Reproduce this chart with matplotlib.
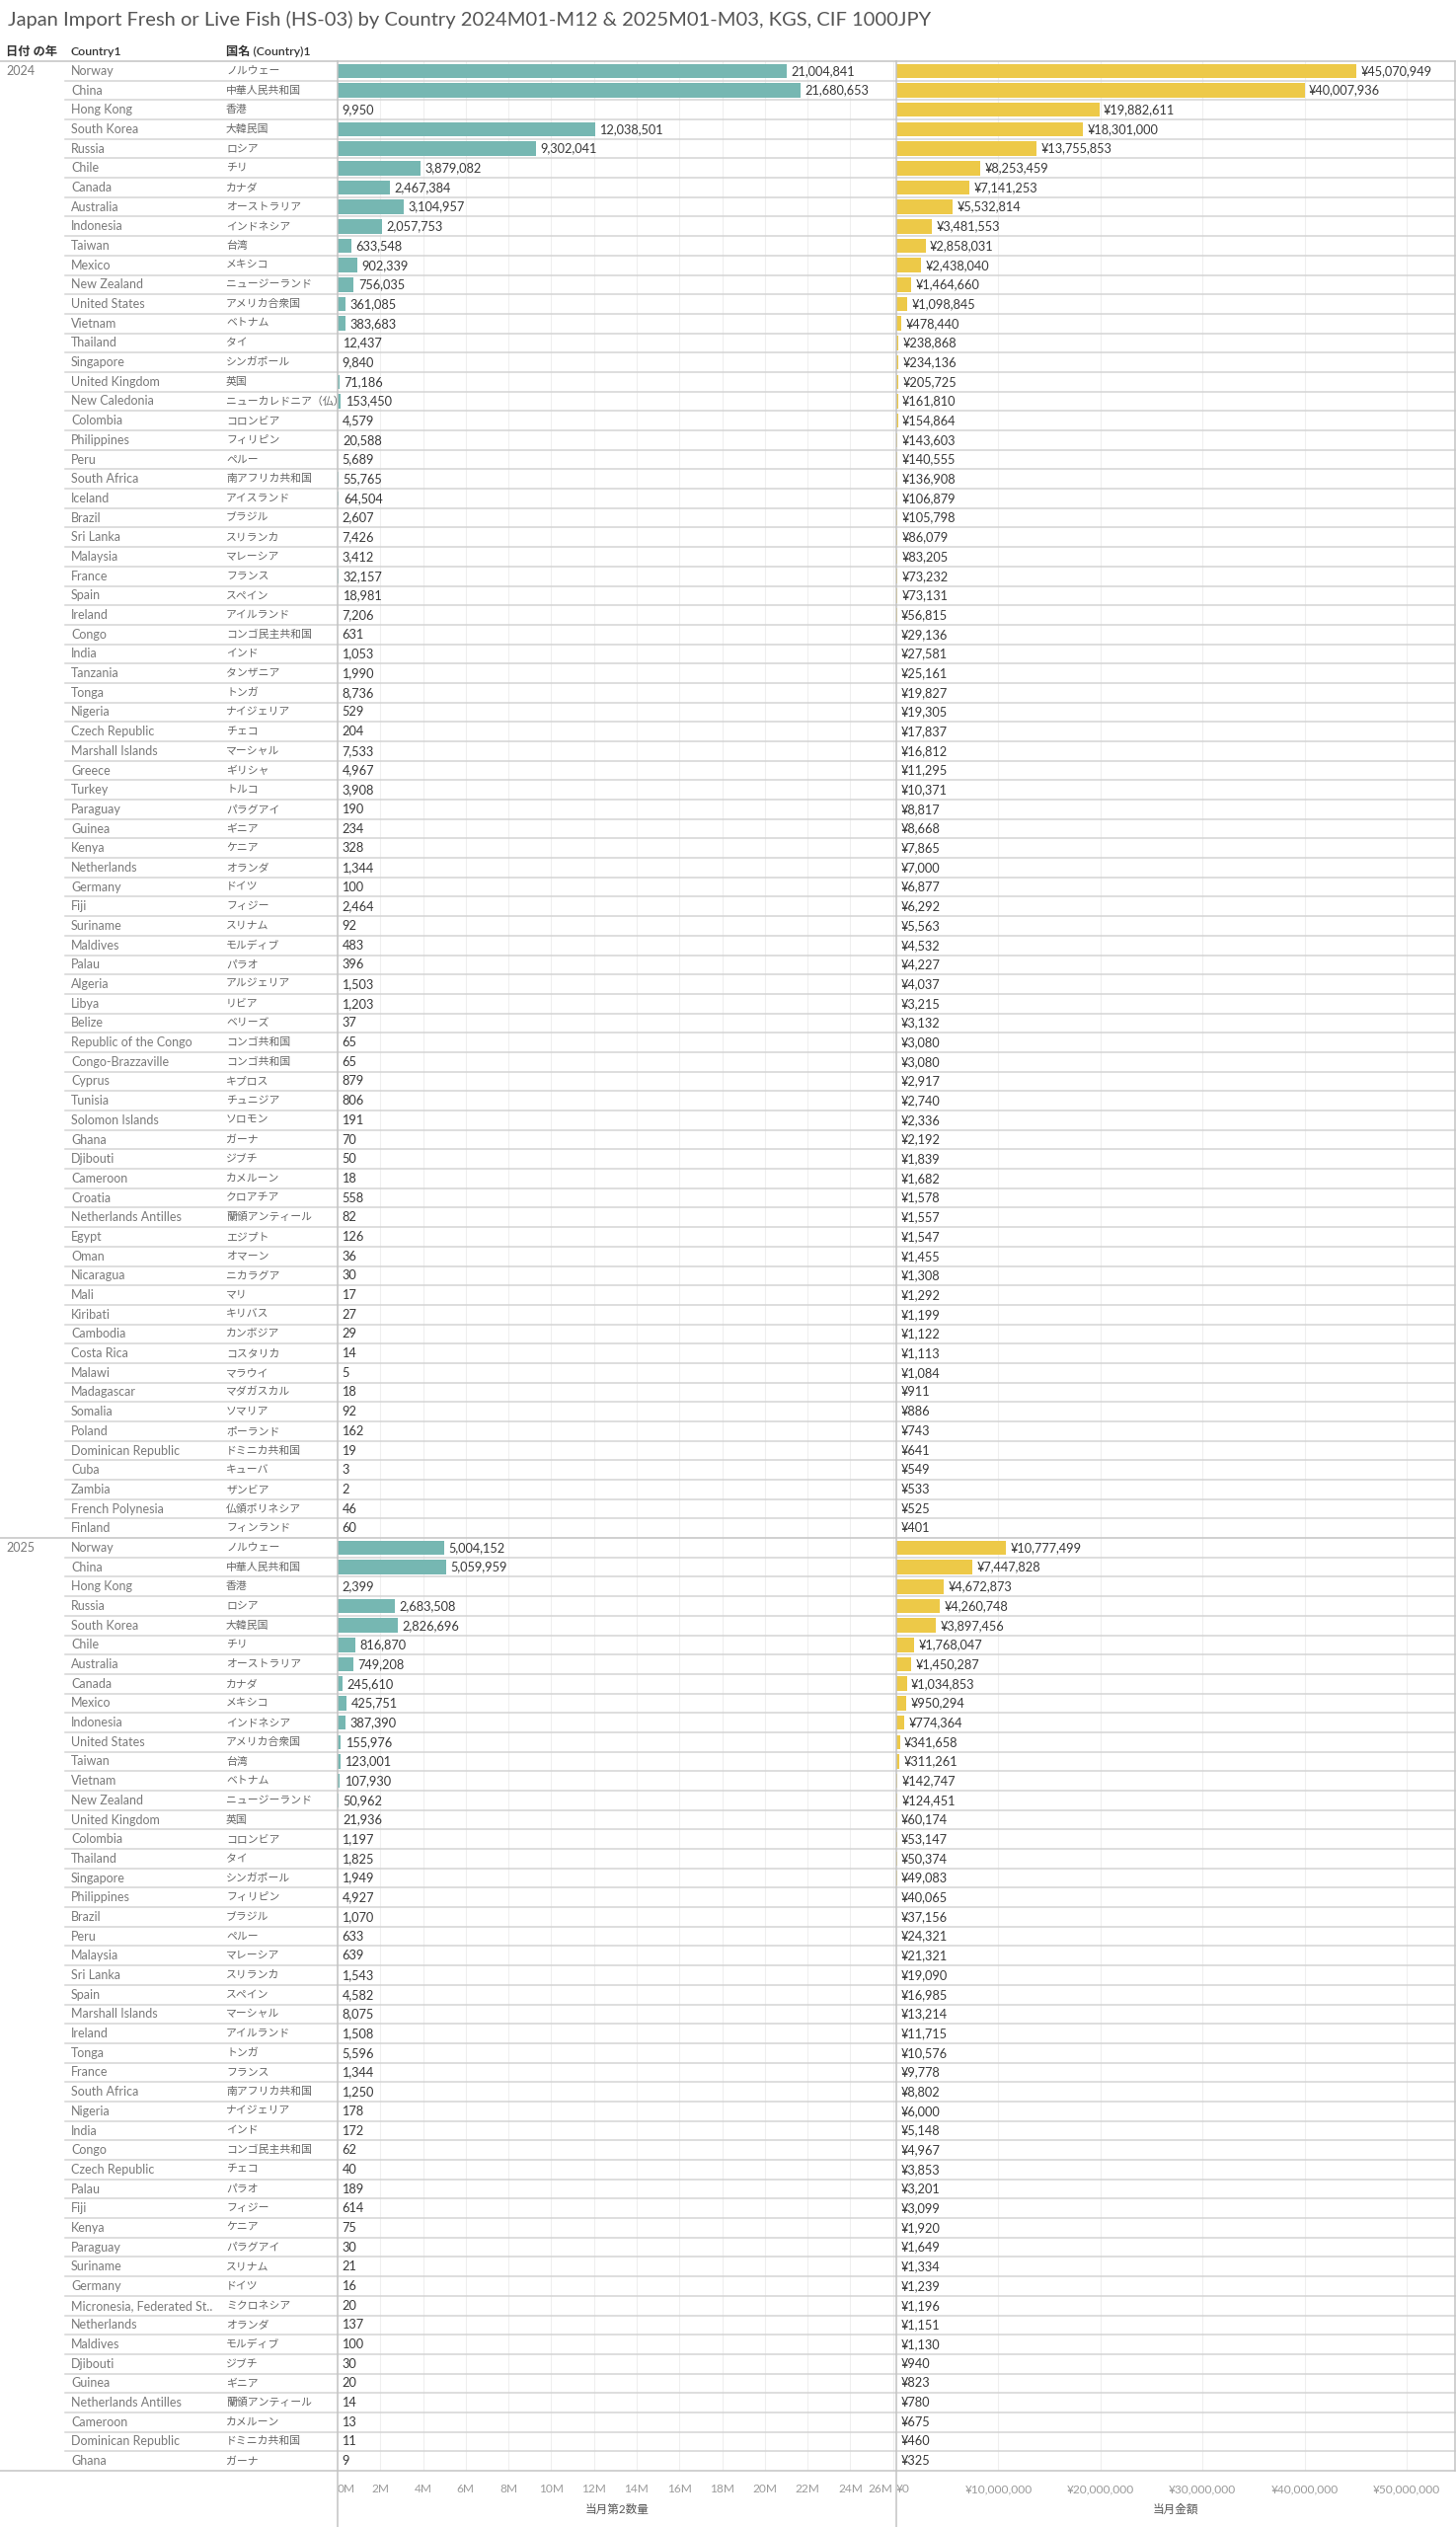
import matplotlib
matplotlib.use('Agg')
import matplotlib.pyplot as plt
from matplotlib.lines import Line2D
import numpy as np

W, H = 1475, 2560
plt.rcParams['font.family'] = ['Lato', 'Noto Sans CJK JP', 'DejaVu Sans']

TITLE = "Japan Import Fresh or Live Fish (HS-03) by Country 2024M01-M12 & 2025M01-M03, KGS, CIF 1000JPY"

countries_2024 = [
    "Norway", "China", "Hong Kong", "South Korea", "Russia", "Chile", "Canada", "Australia",
    "Indonesia", "Taiwan", "Mexico", "New Zealand", "United States", "Vietnam", "Thailand",
    "Singapore", "United Kingdom", "New Caledonia", "Colombia", "Philippines", "Peru",
    "South Africa", "Iceland", "Brazil", "Sri Lanka", "Malaysia", "France", "Spain", "Ireland",
    "Congo", "India", "Tanzania", "Tonga", "Nigeria", "Czech Republic", "Marshall Islands",
    "Greece", "Turkey", "Paraguay", "Guinea", "Kenya", "Netherlands", "Germany", "Fiji",
    "Suriname", "Maldives", "Palau", "Algeria", "Libya", "Belize", "Republic of the Congo",
    "Congo-Brazzaville", "Cyprus", "Tunisia", "Solomon Islands", "Ghana", "Djibouti",
    "Cameroon", "Croatia", "Netherlands Antilles", "Egypt", "Oman", "Nicaragua", "Mali",
    "Kiribati", "Cambodia", "Costa Rica", "Malawi", "Madagascar", "Somalia", "Poland",
    "Dominican Republic", "Cuba", "Zambia", "French Polynesia", "Finland",
]
names_jp_2024 = [
    "ノルウェー", "中華人民共和国", "香港", "大韓民国", "ロシア", "チリ", "カナダ", "オーストラリア",
    "インドネシア", "台湾", "メキシコ", "ニュージーランド", "アメリカ合衆国", "ベトナム", "タイ",
    "シンガポール", "英国", "ニューカレドニア（仏）", "コロンビア", "フィリピン", "ペルー",
    "南アフリカ共和国", "アイスランド", "ブラジル", "スリランカ", "マレーシア", "フランス", "スペイン", "アイルランド",
    "コンゴ民主共和国", "インド", "タンザニア", "トンガ", "ナイジェリア", "チェコ", "マーシャル",
    "ギリシャ", "トルコ", "パラグアイ", "ギニア", "ケニア", "オランダ", "ドイツ", "フィジー",
    "スリナム", "モルディブ", "パラオ", "アルジェリア", "リビア", "ベリーズ", "コンゴ共和国",
    "コンゴ共和国", "キプロス", "チュニジア", "ソロモン", "ガーナ", "ジブチ",
    "カメルーン", "クロアチア", "蘭領アンティール", "エジプト", "オマーン", "ニカラグア", "マリ",
    "キリバス", "カンボジア", "コスタリカ", "マラウイ", "マダガスカル", "ソマリア", "ポーランド",
    "ドミニカ共和国", "キューバ", "ザンビア", "仏領ポリネシア", "フィンランド",
]
qty_2024 = [
    21004841, 21680653, 9950, 12038501, 9302041, 3879082, 2467384, 3104957,
    2057753, 633548, 902339, 756035, 361085, 383683, 12437,
    9840, 71186, 153450, 4579, 20588, 5689,
    55765, 64504, 2607, 7426, 3412, 32157, 18981, 7206,
    631, 1053, 1990, 8736, 529, 204, 7533,
    4967, 3908, 190, 234, 328, 1344, 100, 2464,
    92, 483, 396, 1503, 1203, 37, 65,
    65, 879, 806, 191, 70, 50,
    18, 558, 82, 126, 36, 30, 17,
    27, 29, 14, 5, 18, 92, 162,
    19, 3, 2, 46, 60,
]
val_2024 = [
    45070949, 40007936, 19882611, 18301000, 13755853, 8253459, 7141253, 5532814,
    3481553, 2858031, 2438040, 1464660, 1098845, 478440, 238868,
    234136, 205725, 161810, 154864, 143603, 140555,
    136908, 106879, 105798, 86079, 83205, 73232, 73131, 56815,
    29136, 27581, 25161, 19827, 19305, 17837, 16812,
    11295, 10371, 8817, 8668, 7865, 7000, 6877, 6292,
    5563, 4532, 4227, 4037, 3215, 3132, 3080,
    3080, 2917, 2740, 2336, 2192, 1839,
    1682, 1578, 1557, 1547, 1455, 1308, 1292,
    1199, 1122, 1113, 1084, 911, 886, 743,
    641, 549, 533, 525, 401,
]

countries_2025 = [
    "Norway", "China", "Hong Kong", "Russia", "South Korea", "Chile", "Australia", "Canada",
    "Mexico", "Indonesia", "United States", "Taiwan", "Vietnam", "New Zealand", "United Kingdom",
    "Colombia", "Thailand", "Singapore", "Philippines", "Brazil", "Peru", "Malaysia", "Sri Lanka",
    "Spain", "Marshall Islands", "Ireland", "Tonga", "France", "South Africa", "Nigeria", "India",
    "Congo", "Czech Republic", "Palau", "Fiji", "Kenya", "Paraguay", "Suriname", "Germany",
    "Micronesia, Federated St..", "Netherlands", "Maldives", "Djibouti", "Guinea",
    "Netherlands Antilles", "Cameroon", "Dominican Republic", "Ghana",
]
names_jp_2025 = [
    "ノルウェー", "中華人民共和国", "香港", "ロシア", "大韓民国", "チリ", "オーストラリア", "カナダ",
    "メキシコ", "インドネシア", "アメリカ合衆国", "台湾", "ベトナム", "ニュージーランド", "英国",
    "コロンビア", "タイ", "シンガポール", "フィリピン", "ブラジル", "ペルー", "マレーシア", "スリランカ",
    "スペイン", "マーシャル", "アイルランド", "トンガ", "フランス", "南アフリカ共和国", "ナイジェリア", "インド",
    "コンゴ民主共和国", "チェコ", "パラオ", "フィジー", "ケニア", "パラグアイ", "スリナム", "ドイツ",
    "ミクロネシア", "オランダ", "モルディブ", "ジブチ", "ギニア",
    "蘭領アンティール", "カメルーン", "ドミニカ共和国", "ガーナ",
]
qty_2025 = [
    5004152, 5059959, 2399, 2683508, 2826696, 816870, 749208, 245610,
    425751, 387390, 155976, 123001, 107930, 50962, 21936,
    1197, 1825, 1949, 4927, 1070, 633, 639, 1543,
    4582, 8075, 1508, 5596, 1344, 1250, 178, 172,
    62, 40, 189, 614, 75, 30, 21, 16,
    20, 137, 100, 30, 20,
    14, 13, 11, 9,
]
val_2025 = [
    10777499, 7447828, 4672873, 4260748, 3897456, 1768047, 1450287, 1034853,
    950294, 774364, 341658, 311261, 142747, 124451, 60174,
    53147, 50374, 49083, 40065, 37156, 24321, 21321, 19090,
    16985, 13214, 11715, 10576, 9778, 8802, 6000, 5148,
    4967, 3853, 3201, 3099, 1920, 1649, 1334, 1239,
    1196, 1151, 1130, 940, 823,
    780, 675, 460, 325,
]

year_labels = ["2024", "2025"]
qty_ticks = list(range(0, 27, 2))            # in millions
val_ticks = [0, 10, 20, 30, 40, 50]           # in millions of yen

countries = countries_2024 + countries_2025
names_jp = names_jp_2024 + names_jp_2025
qty = qty_2024 + qty_2025
val = val_2024 + val_2025
n24 = len(countries_2024)
N = len(countries)

TEAL = '#76b7b2'
YELLOW = '#edc948'
LINE = '#d4d4d4'
LINE_DARK = '#c4c4c4'
GRID = '#efefef'

FS_NAME = 9.0
FS_JP = 7.8
FS_VAL = 9.2

fig = plt.figure(figsize=(W / 100, H / 100), dpi=100)
fig.patch.set_facecolor('white')


def add_ax(x0, y0, x1, y1):
    return fig.add_axes([x0 / W, 1 - y1 / H, (x1 - x0) / W, (y1 - y0) / H])


TOP, BOT = 62, 2503
XL, XM, XR = 342, 908, 1474
axL = add_ax(0, TOP, XL, BOT)
ax1 = add_ax(XL, TOP, XM, BOT)
ax2 = add_ax(XM, TOP, XR, BOT)

y = np.arange(N)
for ax in (axL, ax1, ax2):
    ax.set_ylim(N - 0.5, -0.5)
    for s in ax.spines.values():
        s.set_visible(False)
    ax.set_yticks([])
    ax.set_facecolor('none')

axL.set_xlim(0, XL)
axL.set_xticks([])

# row separators
for b in range(0, N + 1):
    yy = b - 0.5
    if b in (0, n24, N):
        axL.plot([0, XL], [yy, yy], color=LINE_DARK, lw=1.1, zorder=3, clip_on=False)
        c = LINE_DARK
    else:
        axL.plot([66, XL], [yy, yy], color=LINE, lw=1.1, zorder=3, clip_on=False)
        c = LINE
    ax1.axhline(yy, color=c, lw=1.1, zorder=3, clip_on=False)
    ax2.axhline(yy, color=c, lw=1.1, zorder=3, clip_on=False)

# label columns
for i in range(N):
    axL.text(72, i, countries[i], va='center', ha='left', fontsize=FS_NAME, color='#7a7a7a')
    axL.text(229, i, names_jp[i], va='center', ha='left', fontsize=FS_JP, color='#666666',
             family=['Noto Sans CJK JP', 'DejaVu Sans'])
axL.text(6, 0, year_labels[0], va='center', ha='left', fontsize=FS_NAME, color='#7a7a7a')
axL.text(6, n24, year_labels[1], va='center', ha='left', fontsize=FS_NAME, color='#7a7a7a')

# headers and title
fig.text(8 / W, 1 - 20 / H, TITLE, fontsize=14.5, color='#555555', va='center', ha='left')
for hx, ht in ((6, '日付 の年'), (72, 'Country1'), (229, '国名 (Country)1')):
    fig.text(hx / W, 1 - 52 / H, ht, fontsize=8.8, color='#333333', va='center', ha='left',
             fontweight='semibold')

# bars: quantity
ax1.set_xlim(0, 26.15e6)
ax1.barh(y, qty, height=0.74, color=TEAL, zorder=2)
for i, v in enumerate(qty):
    ax1.annotate(f"{v:,}", (v, i), xytext=(3.2, 0), textcoords='offset points',
                 va='center', ha='left', fontsize=FS_VAL, color='#3a3a3a', zorder=4)
ax1.set_xticks([t * 1e6 for t in qty_ticks])
ax1.set_xticklabels([f"{t}M" for t in qty_ticks])

# bars: value
ax2.set_xlim(0, 54.75e6)
ax2.barh(y, val, height=0.74, color=YELLOW, zorder=2)
for i, v in enumerate(val):
    ax2.annotate(f"¥{v:,}", (v, i), xytext=(3.2, 0), textcoords='offset points',
                 va='center', ha='left', fontsize=FS_VAL, color='#3a3a3a', zorder=4)
ax2.set_xticks([t * 1e6 for t in val_ticks])
ax2.set_xticklabels([f"¥{t * 1000000:,}" for t in val_ticks])

for ax in (ax1, ax2):
    ax.grid(axis='x', color=GRID, lw=0.8, zorder=0)
    ax.set_axisbelow(True)
    ax.tick_params(axis='x', length=0, pad=9.5, labelsize=8.6, labelcolor='#9a9a9a')

tl = ax1.get_xticklabels()
tl[0].set_ha('left')
tl[-1].set_ha('right')
tl2 = ax2.get_xticklabels()
tl2[0].set_ha('left')

ax1.set_xlabel('当月第2数量', fontsize=8.4, color='#555555', labelpad=7)
ax2.set_xlabel('当月金額', fontsize=8.4, color='#555555', labelpad=7)

# vertical panel borders
for xx in (XL, XM):
    fig.add_artist(Line2D([xx / W, xx / W], [1 - TOP / H, 0], color=LINE_DARK, lw=1.1,
                          transform=fig.transFigure))
fig.add_artist(Line2D([(XR - 0.5) / W, (XR - 0.5) / W], [1 - TOP / H, 1 - BOT / H],
                      color=LINE_DARK, lw=1.1, transform=fig.transFigure))

fig.savefig('out.png', dpi=100, facecolor='white')
